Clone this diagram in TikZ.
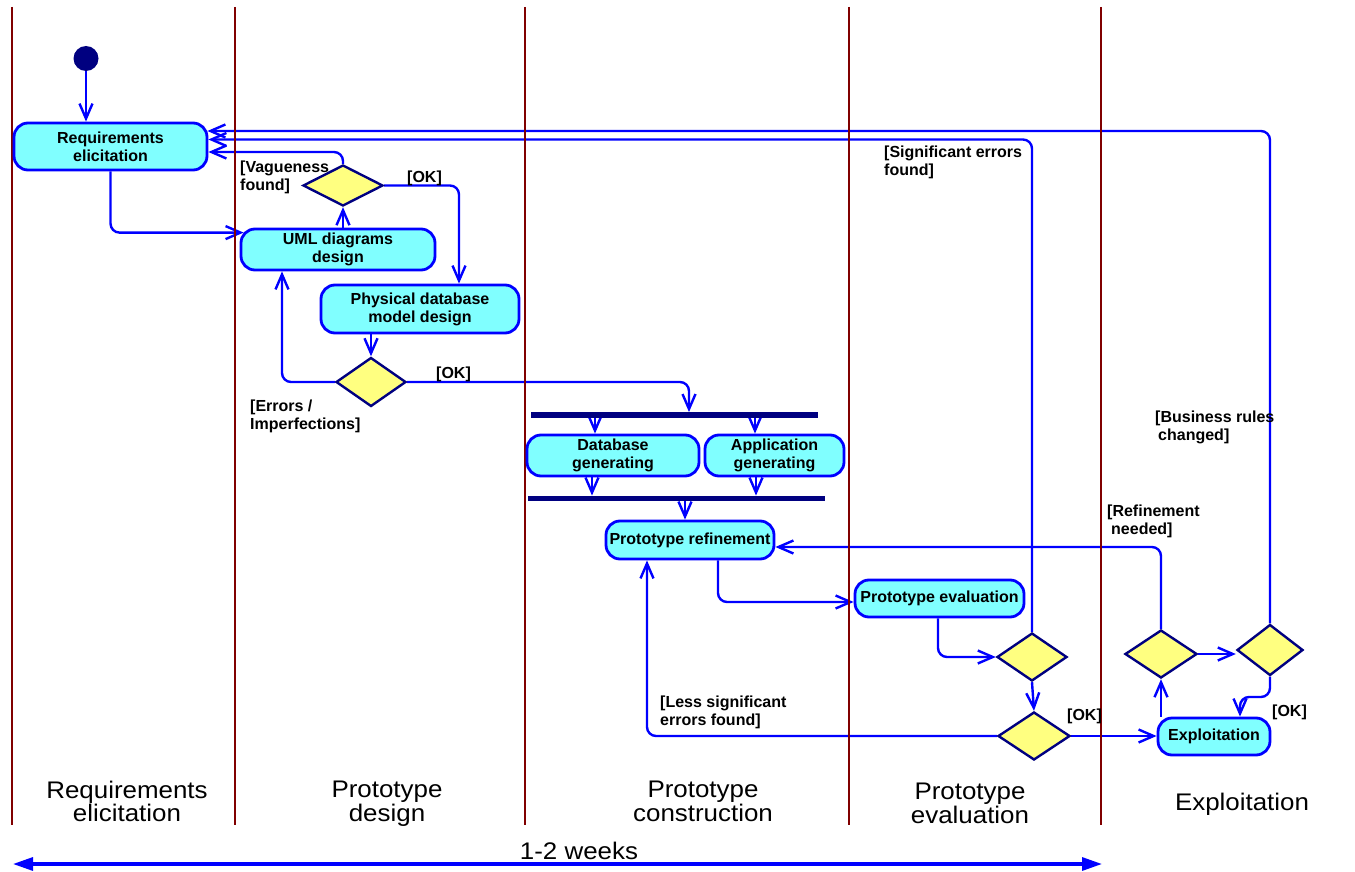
\documentclass[tikz,border=0pt]{standalone}
\usepackage{fontspec}
\setmainfont{Liberation Sans}
\newfontfamily\lanefam[FakeStretch=1.08]{Liberation Sans}
\usetikzlibrary{arrows.meta,shapes.geometric,calc}

\definecolor{flowblue}{RGB}{0,0,255}
\definecolor{navyc}{RGB}{0,0,128}
\definecolor{lanered}{RGB}{128,0,0}
\definecolor{actfill}{RGB}{128,255,255}
\definecolor{decfill}{RGB}{255,255,128}

\pgfdeclarelayer{bg}
\pgfdeclarelayer{edges}
\pgfdeclarelayer{lanes}
\pgfsetlayers{bg,edges,lanes,main}

\newcommand\boxfont{\fontsize{16}{18}\selectfont\bfseries}
\newcommand\lanetextfont{\lanefam\fontsize{24}{22}\selectfont}

\tikzset{
  act/.style={draw=flowblue, fill=actfill, line width=2.8pt, rounded corners=14pt,
              align=center, font=\boxfont, inner sep=0pt},
  dec/.style={diamond, draw=navyc, fill=decfill, line width=2.4pt, inner sep=0pt},
  forkbar/.style={rectangle, fill=navyc, draw=none, inner sep=0pt, minimum height=5.5pt},
  startdot/.style={circle, fill=navyc, draw=none, minimum size=25pt, inner sep=0pt},
  flow/.style={draw=flowblue, line width=2.4pt, rounded corners=9pt,
               -{Straight Barb[length=15pt,width=13pt]}},
  guard/.style={anchor=north west, inner sep=0pt, align=left, font=\boxfont},
  lanelabel/.style={anchor=north, inner sep=0pt, align=center, font=\lanetextfont},
  lane/.style={draw=lanered, line width=2.2pt},
  span/.style={draw=flowblue, line width=3.2pt,
               {Triangle[length=20pt,width=13pt]}-{Triangle[length=20pt,width=13pt]}}
}

\begin{document}
\begin{tikzpicture}[x=1pt,y=-1pt]
\begin{pgfonlayer}{bg}
  \fill[white] (0,0) rectangle (1355,872);
\end{pgfonlayer}
\useasboundingbox (0,0) rectangle (1355,872);

% activities
\node[startdot] (start) at (86,58.5) {};
\node[act, minimum width=193pt, minimum height=47pt] (req) at (110.5,146.5) {Requirements\\elicitation};
\node[act, minimum width=194pt, minimum height=41pt] (uml) at (338,249.5) {UML diagrams\\design};
\node[act, minimum width=198pt, minimum height=48pt] (phys) at (420,309) {Physical database\\model design};
\node[act, minimum width=172pt, minimum height=41pt] (dbgen) at (613,455.5) {Database\\generating};
\node[act, minimum width=139pt, minimum height=41pt] (appgen) at (774.5,455.5) {Application\\generating};
\node[act, minimum width=168pt, minimum height=38pt] (ref) at (690,540) {\raisebox{2pt}{Prototype refinement}};
\node[act, minimum width=169pt, minimum height=37pt] (eval) at (939.5,598.5) {\raisebox{2pt}{Prototype evaluation}};
\node[act, minimum width=112pt, minimum height=37pt] (exp) at (1214,736.5) {Exploitation};

% decisions
\node[dec, minimum width=80pt, minimum height=41pt] (d1) at (343,185.5) {};
\node[dec, minimum width=70pt, minimum height=49pt] (d2) at (371,382) {};
\node[dec, minimum width=70pt, minimum height=48pt] (d3) at (1032,657) {};
\node[dec, minimum width=72pt, minimum height=48pt] (d4) at (1034,736) {};
\node[dec, minimum width=72pt, minimum height=48pt] (d5) at (1161,654) {};
\node[dec, minimum width=66pt, minimum height=51pt] (d6) at (1270,650) {};

% fork and join bars
\node[forkbar, minimum width=287pt] (fork1) at (674.5,415) {};
\node[forkbar, minimum width=297pt] (fork2) at (676.5,498.5) {};

% guard conditions
\node[guard] (gvague) at (240,160.5) {[Vagueness\\found]};
\node[guard] (gok1) at (407,170.5) {[OK]};
\node[guard] (gerr) at (250,399.5) {[Errors /\\Imperfections]};
\node[guard] (gok2) at (436,366.5) {[OK]};
\node[guard] (gsig) at (884,145.5) {[Significant errors\\found]};
\node[guard] (gless) at (660,695.5) {[Less significant\\errors found]};
\node[guard] (gok3) at (1067,708.5) {[OK]};
\node[guard] (grefn) at (1107,504.5) {[Refinement\\\hspace*{4pt}needed]};
\node[guard] (gbus) at (1155,410.5) {[Business rules\\\hspace*{3pt}changed]};
\node[guard] (gok4) at (1272,704.5) {[OK]};

% lane titles
\node[lanelabel] (lreq) at (127,781) {Requirements\\elicitation};
\node[lanelabel] (ldes) at (387,781) {Prototype\\design};
\node[lanelabel] (lcon) at (703,781) {Prototype\\construction};
\node[lanelabel] (leva) at (970,783) {Prototype\\evaluation};
\node[lanelabel] (lexp) at (1242,793) {Exploitation};

% duration
\coordinate (spanL) at (13,864);
\coordinate (spanR) at (1102,864);
\node[anchor=base, inner sep=0pt, font=\lanetextfont] (weeks) at (579,859) {1-2 weeks};

\begin{pgfonlayer}{edges}
  \draw[flow] (start |- start.south) -- (start |- req.north);
  \draw[flow] (req.south) |- ($(uml.north west)+(4,5)$);
  \draw[flow] (d1.south |- uml.north) -- (d1.south);
  \draw[flow] (d1.north) |- ($(req.east)+(0,5.5)$);
  \draw[flow] (d1.east) -| ($(phys.north)+(39,0)$);
  \draw[flow] (d2.north |- phys.south) -- (d2.north);
  \draw[flow] (d2.west) -| ($(uml.south)+(-56,0)$);
  \draw[flow] (d2.east) -| ($(fork1.north)+(14.5,0)$);
  \draw[flow] (fork1.south -| 595,0) -- (dbgen.north -| 595,0);
  \draw[flow] (fork1.south -| 755,0) -- (appgen.north -| 755,0);
  \draw[flow] (dbgen.south -| 592,0) -- (fork2.north -| 592,0);
  \draw[flow] (appgen.south -| 756,0) -- (fork2.north -| 756,0);
  \draw[flow] (fork2.south -| 685,0) -- (ref.north -| 685,0);
  \draw[flow] (ref.south -| 718,0) |- (eval.west |- 0,602);
  \draw[flow] (eval.south -| 938,0) |- (d3.west);
  \draw[flow] (d3.north) |- ($(req.east)+(0,-7)$);
  \draw[flow] (d3.south) -- (d4.north);
  \draw[flow] (d4.west) -| (ref.south -| 647,0);
  \draw[flow] (d4.east) -- (exp.west |- d4.east);
  \draw[flow] (exp.north -| d5.south) -- (d5.south);
  \draw[flow] (d5.east) -- (d6.west |- d5.east);
  \draw[flow] (d5.north) |- (ref.east |- 0,547);
  \draw[flow] (d6.north) |- ($(req.east)+(-1,-15.5)$);
  \draw[flow] (d6.south) -- (d6.south |- 0,697) -| (exp.north -| 1240,0);
  \draw[span] (spanL) -- (spanR);
\end{pgfonlayer}

\begin{pgfonlayer}{lanes}
  \foreach \x in {12,235,525,849,1101} \draw[lane] (\x,7) -- (\x,825);
\end{pgfonlayer}
\end{tikzpicture}
\end{document}
